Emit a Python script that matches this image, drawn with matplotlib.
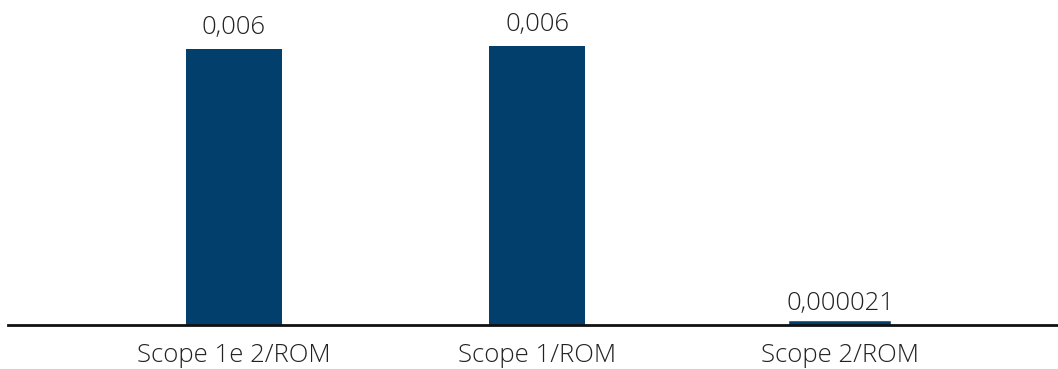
import matplotlib
matplotlib.use("Agg")
import matplotlib.pyplot as plt

categories = ["Scope 1e 2/ROM", "Scope 1/ROM", "Scope 2/ROM"]
values = [0.00594, 0.00600, 0.000021]
labels = ["0,006", "0,006", "0,000021"]

plt.rcParams['font.family'] = ['Open Sans', 'DejaVu Sans']

W, H = 1058, 369
fig = plt.figure(figsize=(W / 100, H / 100), dpi=100)
ax = fig.add_axes([8 / W, (H - 325) / H, 1 - 8 / W, 325 / H])

color = "#023f6d"
x = list(range(len(categories)))
bars = ax.bar(x, values, width=0.317, color=color, zorder=2)
# make the tiny bar visible as in the reference
bars[2].set_edgecolor(color)
bars[2].set_linewidth(4.0)

ax.set_xlim(-0.746, 2.719)
ax.set_ylim(0, 0.006 * 325 / 279)

txt = "#222222"
for i, (v, lab) in enumerate(zip(values, labels)):
    off = 9 if i < 2 else 7
    yv = v if i < 2 else 0.000021 + 0.000012
    ax.annotate(lab, (i, yv), xytext=(0, off), textcoords="offset pixels",
                ha="center", va="bottom", fontsize=18.5, color=txt,
                fontweight="light")

ax.set_xticks(x)
ax.set_xticklabels(categories, fontsize=18.5, color=txt, fontweight="light")
ax.tick_params(axis="x", length=0, pad=13)
ax.set_yticks([])
for s in ["top", "left", "right"]:
    ax.spines[s].set_visible(False)
ax.spines["bottom"].set_linewidth(2)
ax.spines["bottom"].set_color("#111111")
ax.spines["bottom"].set_zorder(3)

fig.savefig("out.png", dpi=100)
